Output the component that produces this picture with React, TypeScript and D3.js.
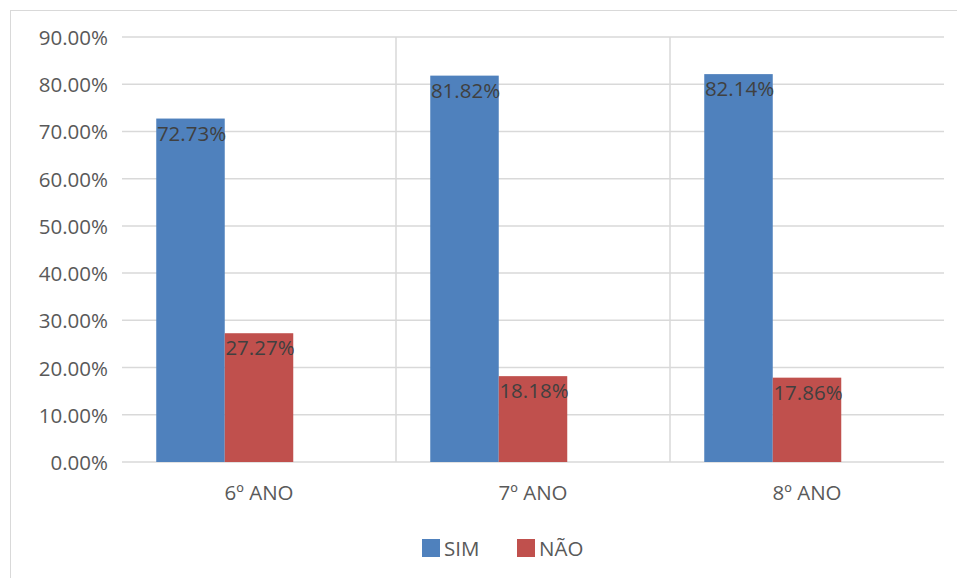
import * as d3 from "d3";

const categories = ["6º ANO", "7º ANO", "8º ANO"];
// Excel reserved a third (empty) slot per group, so bars sit left of centre
const slots = ["SIM", "NÃO", ""];
const series = ["SIM", "NÃO"];
const simValues = [72.73, 81.82, 82.14];
const naoValues = [27.27, 18.18, 17.86];
const yTicks = [0, 10, 20, 30, 40, 50, 60, 70, 80, 90];
const colors = ["#4F81BD", "#C0504D"];

const W = 957;
const H = 578;
const FONT = "'Open Sans', sans-serif";

export default function App() {
  const values = [simValues, naoValues];
  const x = d3.scaleBand().domain(categories).range([122, 944]);
  const inner = d3
    .scaleBand()
    .domain(slots)
    .range([0, x.bandwidth()])
    .paddingOuter(0.5)
    .paddingInner(0);
  const y = d3.scaleLinear().domain([0, 90]).range([462, 37]);
  const fmt = (v: number) => v.toFixed(2) + "%";

  return (
    <svg
      width={W}
      height={H}
      viewBox={`0 0 ${W} ${H}`}
      style={{ position: "absolute", left: 0, top: 0, background: "#fff" }}
      fontFamily={FONT}
    >
      <rect x={10.5} y={10.5} width={W} height={H} fill="#fff" stroke="#d9d9d9" />
      <g>
        {yTicks.map((t) => (
          <g key={t}>
            <line x1={122} x2={944} y1={y(t)} y2={y(t)} stroke="#d9d9d9" strokeWidth={1.5} />
            <text
              x={108}
              y={y(t)}
              textAnchor="end"
              dominantBaseline="central"
              fontSize={20.5}
              fill="#595959"
            >
              {fmt(t)}
            </text>
          </g>
        ))}
        {categories.slice(1).map((c) => (
          <line
            key={c}
            x1={x(c)}
            x2={x(c)}
            y1={y(90)}
            y2={y(0)}
            stroke="#d9d9d9"
            strokeWidth={1.5}
          />
        ))}
      </g>
      <g>
        {categories.map((c, i) => (
          <g key={c} transform={`translate(${x(c)},0)`}>
            {series.map((s, j) => {
              const v = values[j][i];
              const bx = inner(s) ?? 0;
              return (
                <g key={s}>
                  <rect
                    x={bx}
                    y={y(v)}
                    width={inner.bandwidth()}
                    height={y(0) - y(v)}
                    fill={colors[j]}
                  />
                  <text
                    x={bx + inner.bandwidth() / 2 + 1}
                    y={y(v) + 14}
                    textAnchor="middle"
                    dominantBaseline="central"
                    fontSize={20.5}
                    fill="#404040"
                  >
                    {fmt(v)}
                  </text>
                </g>
              );
            })}
            <text
              x={x.bandwidth() / 2}
              y={492}
              textAnchor="middle"
              dominantBaseline="central"
              fontSize={20.5}
              fill="#595959"
            >
              {c}
            </text>
          </g>
        ))}
      </g>
      <g>
        {series.map((s, j) => (
          <g key={s} transform={`translate(${422 + j * 95},548)`}>
            <rect x={0} y={-9} width={18} height={18} fill={colors[j]} />
            <text x={22} y={0} dominantBaseline="central" fontSize={20.5} fill="#595959">
              {s}
            </text>
          </g>
        ))}
      </g>
    </svg>
  );
}
